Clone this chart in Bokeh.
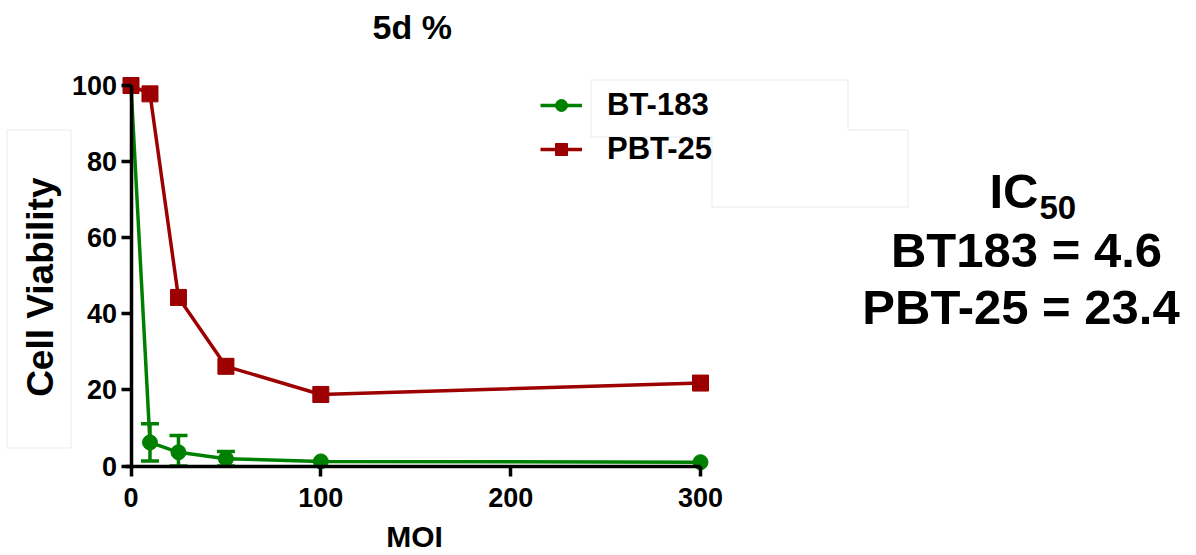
import math
from bokeh.plotting import figure
from bokeh.models import (ColumnDataSource, Whisker, TeeHead, Legend, LegendItem, Label,
                          BoxAnnotation, PolyAnnotation, FixedTicker, Range1d)
from bokeh.embed import file_html
from bokeh.resources import INLINE

# ---- data ----
moi = [0, 10, 25, 50, 100, 300]
bt183 = [100, 6.2, 3.6, 1.9, 1.2, 1.0]
bt183_sem = [0, 4.9, 4.4, 1.9, 0, 0]
pbt25 = [100, 97.8, 44.3, 26.2, 18.8, 21.8]
series_names = ["BT-183", "PBT-25"]
x_ticks = [0, 100, 200, 300]
y_ticks = [0, 20, 40, 60, 80, 100]
title_text = "5d %"
x_title = "MOI"
y_title = "Cell Viability"
ic50_lines = ["BT183 = 4.6", "PBT-25 = 23.4"]

GREEN = "#008000"
RED = "#9c0000"
FONT = "Liberation Sans"
BOXLINE = "#bdbdbd"

W, H = 1190, 555
# pixel scale: data 0..300 -> px 130.5..700 ; data 0..100 -> px 465.5..85
kx = (700 - 130.5) / 300.0
ky = (465.5 - 85) / 100.0
x0 = -130.5 / kx
y1 = 100 + 85 / ky

p = figure(width=W, height=H,
           x_range=Range1d(x0, x0 + W / kx), y_range=Range1d(y1 - H / ky, y1),
           output_backend="svg", toolbar_location=None,
           min_border=0, min_border_left=0, min_border_right=0,
           min_border_top=0, min_border_bottom=0)
p.xgrid.visible = False
p.ygrid.visible = False
p.outline_line_color = None
p.background_fill_color = "white"
p.border_fill_color = "white"

for ax in (p.xaxis[0], p.yaxis[0]):
    ax.axis_line_width = 3.5
    ax.axis_line_color = "black"
    ax.major_tick_line_width = 3.5
    ax.major_tick_line_color = "black"
    ax.major_tick_out = 10
    ax.major_tick_in = 0
    ax.minor_tick_line_color = None
    ax.major_label_text_font = FONT
    ax.major_label_text_font_style = "bold"
    ax.major_label_text_font_size = "27px"
    ax.major_label_text_color = "black"
    ax.fixed_location = 0

p.xaxis[0].ticker = FixedTicker(ticks=x_ticks)
p.yaxis[0].ticker = FixedTicker(ticks=y_ticks)
p.xaxis[0].bounds = (-3, 300)
p.yaxis[0].bounds = (0, 100)
p.xaxis[0].major_label_standoff = 12
p.yaxis[0].major_label_standoff = 4

src = ColumnDataSource(dict(moi=moi, bt=bt183, pbt=pbt25))
err_idx = [i for i, s in enumerate(bt183_sem) if s > 0]
err_src = ColumnDataSource(dict(
    x=[moi[i] for i in err_idx],
    up=[bt183[i] + bt183_sem[i] for i in err_idx],
    lo=[max(bt183[i] - bt183_sem[i], 0) for i in err_idx],
))

wh = Whisker(source=err_src, base="x", upper="up", lower="lo",
             line_color=GREEN, line_width=3.5,
             upper_head=TeeHead(size=18, line_color=GREEN, line_width=3.5),
             lower_head=TeeHead(size=18, line_color=GREEN, line_width=3.5))
p.add_layout(wh)

gl = p.line("moi", "bt", source=src, line_color=GREEN, line_width=3.5)
gc = p.scatter("moi", "bt", source=src, marker="circle", size=15,
               fill_color=GREEN, line_color=GREEN)
rl = p.line("moi", "pbt", source=src, line_color=RED, line_width=3.5)
rs = p.scatter("moi", "pbt", source=src, marker="square", size=16,
               fill_color=RED, line_color=RED)

# decorative boxes (canvas pixels)
ybox = BoxAnnotation(left=6.5, right=70.5, top=129.5, bottom=447.5,
                     left_units="canvas", right_units="canvas",
                     top_units="canvas", bottom_units="canvas",
                     fill_color="white", fill_alpha=1.0,
                     line_color=BOXLINE, line_width=1)
p.add_layout(ybox)
lbox = PolyAnnotation(xs=[590.5, 847.5, 847.5, 907.5, 907.5, 711.5, 711.5, 590.5],
                      ys=[79.5, 79.5, 129.5, 129.5, 206.5, 206.5, 136.5, 136.5],
                      xs_units="canvas", ys_units="canvas",
                      fill_color="white", fill_alpha=1.0,
                      line_color=BOXLINE, line_width=1)
p.add_layout(lbox)

legend = Legend(items=[LegendItem(label=series_names[0], renderers=[gl, gc]),
                       LegendItem(label=series_names[1], renderers=[rl, rs])],
                location=(540, 388), orientation="vertical",
                glyph_width=42, glyph_height=30, label_height=30,
                spacing=8, label_standoff=25, padding=0, margin=0,
                border_line_color=None, background_fill_alpha=0,
                label_text_font=FONT, label_text_font_style="bold",
                label_text_font_size="31px", label_text_color="black")
p.add_layout(legend)


def lab(x, y, text, size, align="center", angle=0):
    p.add_layout(Label(x=x, y=y, x_units="canvas", y_units="canvas", text=text,
                       text_align=align, text_baseline="middle", angle=angle,
                       text_font=FONT, text_font_style="bold",
                       text_font_size=f"{size}px", text_color="black"))


lab(411.7, 26, title_text, 34)
lab(414, 535.5, x_title, 30)
lab(40, 286.7, y_title, 37, angle=math.pi / 2)
lab(1038, 190.8, "IC", 49, align="right")
lab(1039, 206.5, "50", 33, align="left")
lab(1026, 249.2, ic50_lines[0], 49)
lab(1020.5, 306.7, ic50_lines[1], 49)

open("out.html", "w").write(file_html(p, INLINE))
